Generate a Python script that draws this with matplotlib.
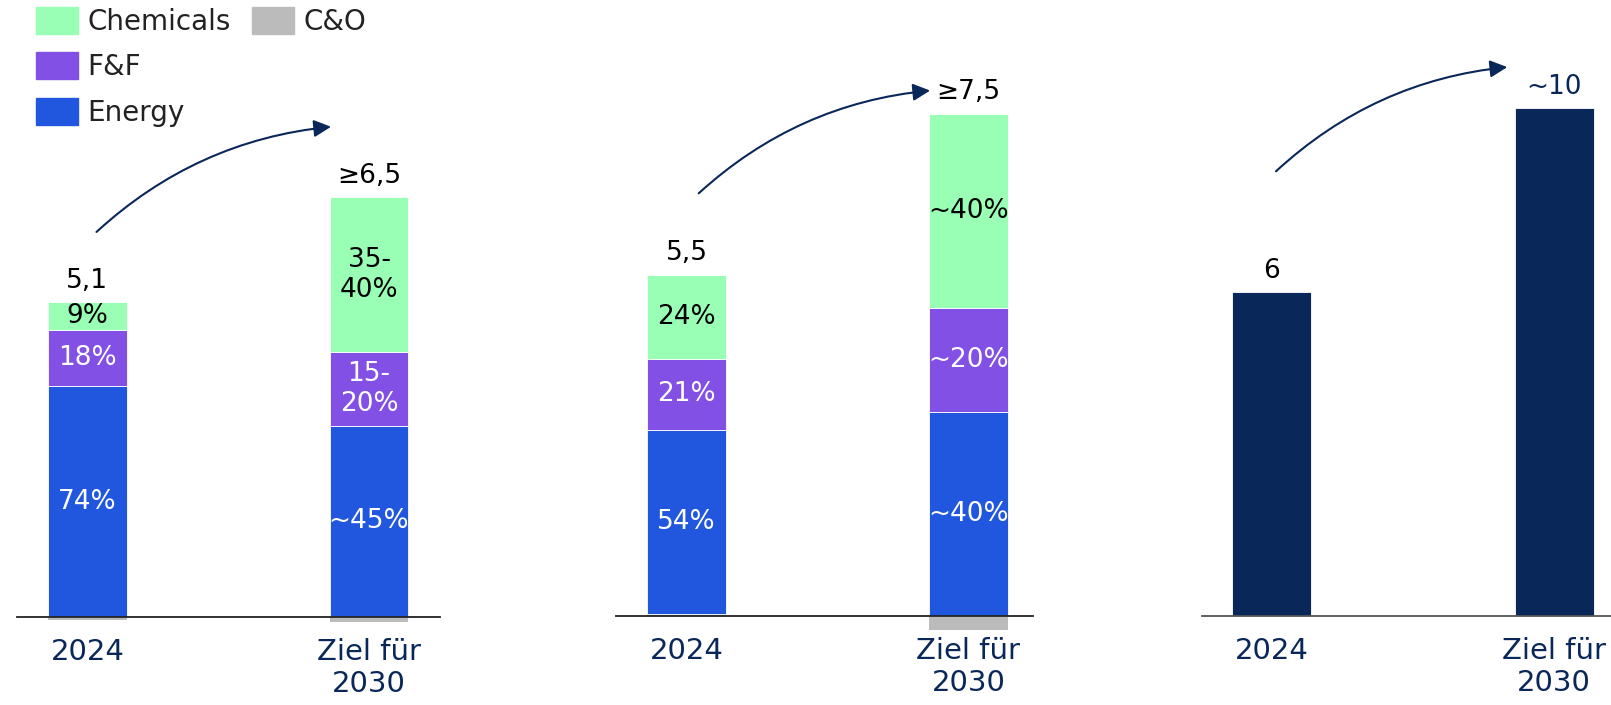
import matplotlib.pyplot as plt
from matplotlib.patches import Patch

# colours
chem_c = '#98FFB4'
ff_c = '#8350E6'
energy_c = '#2157DE'
co_c = '#BBBBBB'
navy = '#0A2759'

categories = ['2024', 'Ziel für\n2030']

# panel 1 (absolute segment heights)
p1_energy = [3.74, 3.10]
p1_ff = [0.91, 1.19]
p1_chem = [0.45, 2.51]
p1_co = [-0.05, -0.08]
p1_energy_lbl = ['74%', '~45%']
p1_ff_lbl = ['18%', '15-\n20%']
p1_chem_lbl = ['9%', '35-\n40%']
p1_top_lbl = ['5,1', '≥6,5']

# panel 2
p2_energy = [2.97, 3.31]
p2_ff = [1.16, 1.68]
p2_chem = [1.36, 3.15]
p2_co = [0.04, -0.23]
p2_energy_lbl = ['54%', '~40%']
p2_ff_lbl = ['21%', '~20%']
p2_chem_lbl = ['24%', '~40%']
p2_top_lbl = ['5,5', '≥7,5']

# panel 3
p3_vals = [6.0, 9.4]
p3_top_lbl = ['6', '~10']

# arrows (start, end) in data coords of each panel
p1_arrow = [(0.025, 6.21), (0.875, 7.95)]
p2_arrow = [(0.036, 6.82), (0.874, 8.52)]
p3_arrow = [(0.007, 8.20), (0.844, 10.17)]

W, H = 1611, 705
fig = plt.figure(figsize=(W / 100, H / 100), dpi=100)


def px_axes(left, right, top, bottom):
    return fig.add_axes([left / W, 1 - bottom / H, (right - left) / W, (bottom - top) / H])


def style(ax, xlim, ylim, spine_color):
    ax.set_xlim(*xlim)
    ax.set_ylim(*ylim)
    for s in ['top', 'left', 'right']:
        ax.spines[s].set_visible(False)
    ax.spines['bottom'].set_color(spine_color)
    ax.spines['bottom'].set_linewidth(1.3)
    ax.set_yticks([])
    ax.set_xticks([0, 1])
    ax.set_xticklabels(categories, fontsize=21, color=navy, va='top')
    ax.tick_params(axis='x', length=0, pad=15)


def arrow(ax, pts):
    ax.annotate('', xy=pts[1], xytext=pts[0],
                arrowprops=dict(arrowstyle='-|>', color=navy, lw=1.5,
                                mutation_scale=26,
                                connectionstyle='arc3,rad=-0.17'),
                annotation_clip=False)


def stacked(ax, energy, ff, chem, co, e_lbl, f_lbl, c_lbl, top_lbl):
    x = [0, 1]
    w = 0.28
    kw = dict(width=w, edgecolor='white', linewidth=0.6, clip_on=False)
    base = [max(c, 0) for c in co]
    ax.bar(x, co, bottom=[0, 0], color=co_c, width=w, linewidth=0, clip_on=False)
    ax.bar(x, energy, bottom=base, color=energy_c, **kw)
    b2 = [b + e for b, e in zip(base, energy)]
    ax.bar(x, ff, bottom=b2, color=ff_c, **kw)
    b3 = [b + f for b, f in zip(b2, ff)]
    ax.bar(x, chem, bottom=b3, color=chem_c, **kw)
    tops = [b + c for b, c in zip(b3, chem)]
    for i in range(2):
        ax.text(x[i], base[i] + energy[i] / 2, e_lbl[i], ha='center', va='center',
                color='white', fontsize=19)
        ax.text(x[i], b2[i] + ff[i] / 2, f_lbl[i], ha='center', va='center',
                color='white', fontsize=19)
        ax.text(x[i], b3[i] + chem[i] / 2, c_lbl[i], ha='center', va='center',
                color='black', fontsize=19)
        ax.annotate(top_lbl[i], (x[i], tops[i]), xytext=(0, 6),
                    textcoords='offset points', ha='center', va='bottom',
                    fontsize=19, color='black')


# panel 1
ax1 = px_axes(17, 440, 0, 617)
style(ax1, (-0.25, 1.252), (0, 617 / 61.7), '#222222')
stacked(ax1, p1_energy, p1_ff, p1_chem, p1_co,
        p1_energy_lbl, p1_ff_lbl, p1_chem_lbl, p1_top_lbl)
arrow(ax1, p1_arrow)

# panel 2
ax2 = px_axes(616, 1033, 0, 616)
style(ax2, (-0.25, 1.229), (0, 616 / 61.7), '#222222')
stacked(ax2, p2_energy, p2_ff, p2_chem, p2_co,
        p2_energy_lbl, p2_ff_lbl, p2_chem_lbl, p2_top_lbl)
arrow(ax2, p2_arrow)

# panel 3
ax3 = px_axes(1202, 1611, 0, 616)
style(ax3, (-0.248, 1.202), (0, 616 / 54.0), '#555555')
ax3.bar([0, 1], p3_vals, width=0.28, color=navy, edgecolor='white', linewidth=0.6)
for i, v in enumerate(p3_vals):
    ax3.annotate(p3_top_lbl[i], (i, v), xytext=(0, 6), textcoords='offset points',
                 ha='center', va='bottom', fontsize=19,
                 color='black' if i == 0 else navy)
arrow(ax3, p3_arrow)

# legend
blank = Patch(facecolor='none', edgecolor='none', label=' ')
handles = [Patch(color=chem_c, label='Chemicals'),
           Patch(color=ff_c, label='F&F'),
           Patch(color=energy_c, label='Energy'),
           Patch(color=co_c, label='C&O'),
           blank, blank]
fig.legend(handles=handles, loc='upper left', bbox_to_anchor=(36 / W, 1 - 7 / H),
           ncol=2, frameon=False, fontsize=20, borderpad=0, borderaxespad=0,
           handlelength=1.5, handleheight=1.1, handletextpad=0.36,
           labelspacing=0.6, columnspacing=0.75, labelcolor='#222222')

fig.savefig('out.png', dpi=100)
